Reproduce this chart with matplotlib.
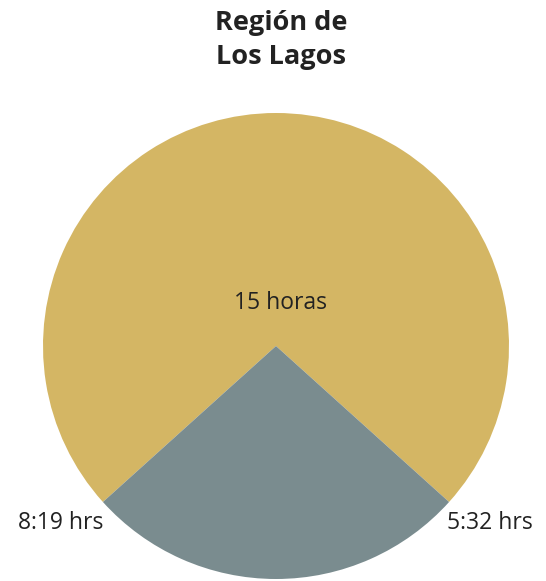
import matplotlib.pyplot as plt

# daylight vs night wedge
labels = ['15 horas', 'noche']
hours = [15, 5.45]
colors = ['#D4B664', '#7A8C8F']
sunrise = '8:19 hrs'
sunset = '5:32 hrs'
title = 'Región de\nLos Lagos'

plt.rcParams['font.family'] = ['Open Sans', 'DejaVu Sans']

fig = plt.figure(figsize=(5.46, 5.81), dpi=100)
ax = fig.add_axes([43 / 546, 2 / 581, 466 / 546, 466 / 581])

gray_share = hours[1] / sum(hours) * 360
start = 270 + gray_share / 2
ax.pie(hours, colors=colors, startangle=start, radius=1,
       wedgeprops=dict(linewidth=0))
ax.set_xlim(-1, 1)
ax.set_ylim(-1, 1)
ax.set_aspect('equal')
ax.axis('off')

txt = dict(fontsize=16.5, color='#222222', ha='center', va='center', clip_on=False)
ax.text(0.02, 0.185, labels[0], **txt)
ax.text(-0.923, -0.76, sunrise, **txt)
ax.text(0.918, -0.76, sunset, **txt)

fig.text(0.515, 0.931, title, ha='center', va='center', fontsize=19.5,
         fontweight='bold', color='#222222', linespacing=1.4)

fig.savefig('out.png', dpi=100)
